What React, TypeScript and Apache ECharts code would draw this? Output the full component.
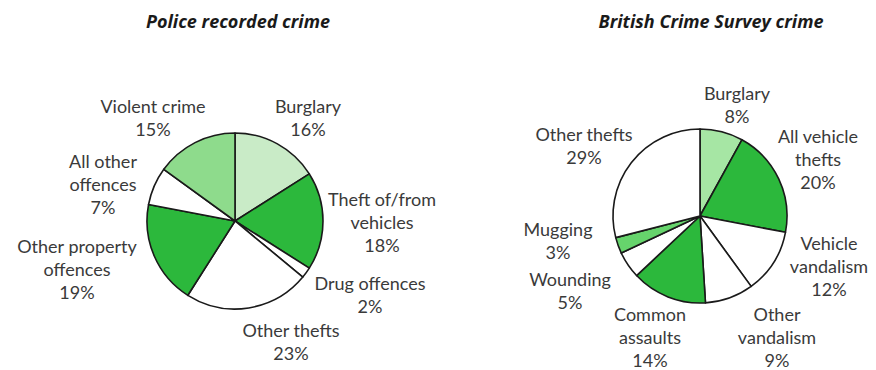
import React, { useEffect, useRef } from "react";
import * as echarts from "echarts";

// ---- Data ----
const leftTitle = "Police recorded crime";
const leftCategories = [
  "Burglary",
  "Theft of/from\nvehicles",
  "Drug offences",
  "Other thefts",
  "Other property\noffences",
  "All other\noffences",
  "Violent crime",
];
const leftValues = [16, 18, 2, 23, 19, 7, 15];

const rightTitle = "British Crime Survey crime";
const rightCategories = [
  "Burglary",
  "All vehicle\nthefts",
  "Vehicle\nvandalism",
  "Other\nvandalism",
  "Common\nassaults",
  "Wounding",
  "Mugging",
  "Other thefts",
];
const rightValues = [8, 20, 12, 9, 14, 5, 3, 29];

// ---- Styles / layout ----
const leftColors = ["#c9ebc7", "#2cb83c", "#ffffff", "#ffffff", "#2cb83c", "#ffffff", "#8edb8c"];
const rightColors = ["#a6e6a4", "#2cb83c", "#ffffff", "#ffffff", "#2cb83c", "#ffffff", "#66d46c", "#ffffff"];
const leftLabelPos: [number, number][] = [
  [308, 117],
  [382, 222],
  [370, 294],
  [291, 341],
  [77, 269],
  [103, 184],
  [153, 117],
];
const rightLabelPos: [number, number][] = [
  [737, 104],
  [818, 159],
  [829, 266],
  [777, 337],
  [650, 337],
  [570, 290],
  [558, 240],
  [584, 145],
];

const FONT = "Lato, 'Open Sans', sans-serif";
const TITLE_FONT = "'Open Sans', Lato, sans-serif";

function makeSeries(
  cats: string[],
  vals: number[],
  colors: string[],
  pos: [number, number][],
  center: [number, number],
  radius: number
) {
  return {
    type: "pie",
    center,
    radius,
    startAngle: 90,
    clockwise: true,
    silent: true,
    avoidLabelOverlap: false,
    data: cats.map((c, i) => ({ name: c, value: vals[i], itemStyle: { color: colors[i] } })),
    itemStyle: { borderColor: "#1a1a1a", borderWidth: 1.6 },
    label: {
      show: true,
      position: "outside",
      formatter: "{b}\n{c}%",
      fontFamily: FONT,
      fontSize: 18,
      lineHeight: 23,
      color: "#3a3a3a",
      align: "center",
      overflow: "none",
      width: 200,
    },
    labelLine: { show: false },
    labelLayout: (params: any) => {
      const p = pos[params.dataIndex];
      return { x: p[0], y: p[1], align: "center", verticalAlign: "middle" };
    },
  };
}

export default function App() {
  const ref = useRef<HTMLDivElement>(null);
  useEffect(() => {
    if (!ref.current) return;
    const chart = echarts.init(ref.current, undefined, { renderer: "svg" });
    chart.setOption({
      animation: false,
      backgroundColor: "#ffffff",
      title: [
        {
          text: leftTitle,
          left: 233,
          top: 7,
          textAlign: "center",
          textStyle: { fontFamily: TITLE_FONT, fontSize: 18, fontWeight: "bold", fontStyle: "italic", color: "#1a1a1a" },
        },
        {
          text: rightTitle,
          left: 706,
          top: 7,
          textAlign: "center",
          textStyle: { fontFamily: TITLE_FONT, fontSize: 18, fontWeight: "bold", fontStyle: "italic", color: "#1a1a1a" },
        },
      ],
      series: [
        makeSeries(leftCategories, leftValues, leftColors, leftLabelPos, [235, 221], 88),
        makeSeries(rightCategories, rightValues, rightColors, rightLabelPos, [700, 216], 87),
      ],
    });
    return () => chart.dispose();
  }, []);
  return (
    <div
      ref={ref}
      style={{ position: "absolute", left: 0, top: 0, width: 876, height: 370 }}
    />
  );
}
